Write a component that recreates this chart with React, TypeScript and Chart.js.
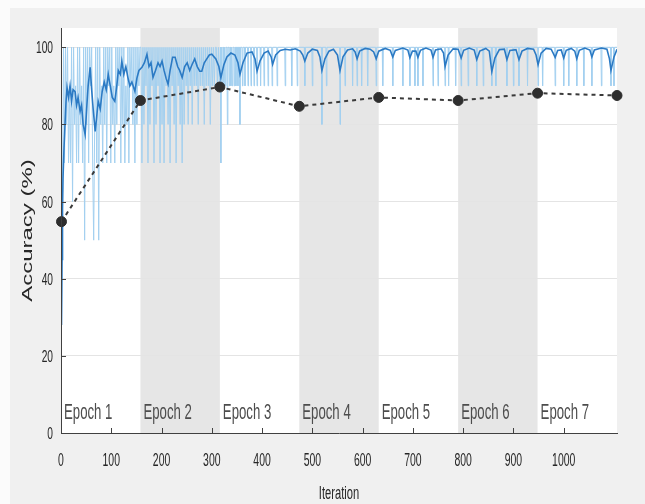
import React, { useEffect, useRef } from "react";
import { Chart, registerables } from "chart.js";

Chart.register(...registerables);

// ---- data ----
const EPOCH_ITERS = [0, 158, 316, 474, 632, 790, 948, 1106];
const EPOCH_LABELS = ["Epoch 1", "Epoch 2", "Epoch 3", "Epoch 4", "Epoch 5", "Epoch 6", "Epoch 7"];
const X_TICKS = [0, 100, 200, 300, 400, 500, 600, 700, 800, 900, 1000];
const Y_TICKS = [0, 20, 40, 60, 80, 100];
const X_TITLE = "Iteration";
const Y_TITLE = "Accuracy (%)";

// validation accuracy (black dashed with markers)
const VAL_ITERS = [1, 158, 316, 474, 632, 790, 948, 1106];
const VAL_ACC = [54.8, 86.2, 89.7, 84.7, 87.0, 86.2, 88.1, 87.5];

// raw mini-batch accuracy, epoch 1 (iterations 1,3,5,...)
const RAW_EPOCH1 = [
  30, 60, 100, 70, 100, 80, 100, 70, 90, 70, 100, 60, 100, 80, 90, 70, 100, 70, 100, 80,
  90, 70, 100, 50, 100, 80, 100, 70, 100, 90, 100, 70, 50, 80, 100, 70, 100, 50, 100, 80,
  90, 70, 100, 80, 100, 70, 100, 90, 100, 70, 100, 80, 90, 70, 100, 80, 100, 90, 100, 70,
  100, 80, 100, 70, 90, 80, 100, 70, 100, 90, 100, 80, 100, 70, 100, 80, 100, 90, 100,
];
// raw mini-batch accuracy, epoch 2 (iterations 159,161,...)
const RAW_EPOCH2 = [
  100, 70, 100, 80, 100, 90, 100, 70, 100, 80, 100, 90, 100, 70, 100, 80, 100, 90, 100, 70,
  100, 80, 100, 70, 100, 90, 100, 80, 100, 70, 100, 90, 100, 80, 100, 70, 100, 90, 100, 80,
  100, 70, 100, 80, 100, 90, 100, 80, 100, 90, 100, 80, 100, 90, 100, 90, 100, 80, 100, 90,
  100, 90, 100, 80, 100, 90, 100, 90, 100, 80, 100, 90, 100, 90, 100, 100, 90, 100, 90,
];
// raw accuracy from epoch 3 on: 100 except at these iterations
const RAW_DIPS: [number, number][] = [
  [318, 70], [321, 90], [324, 90], [327, 90], [331, 80], [335, 90], [338, 90], [341, 90],
  [345, 90], [348, 90], [352, 90], [356, 80], [361, 90], [366, 90], [372, 90], [378, 90],
  [384, 90], [390, 90], [397, 90], [404, 90], [412, 90], [420, 90], [430, 90], [446, 90],
  [459, 90], [470, 90], [485, 90], [500, 90], [519, 80], [528, 90], [555, 80], [565, 90],
  [580, 90], [589, 90], [598, 90], [610, 90], [627, 90], [640, 90], [660, 90], [680, 90],
  [694, 90], [704, 90], [710, 90], [720, 90], [740, 90], [750, 90], [764, 90], [771, 90],
  [785, 90], [796, 90], [810, 90], [827, 90], [840, 90], [857, 90], [865, 90], [887, 90],
  [900, 90], [911, 90], [928, 90], [949, 90], [958, 90], [983, 90], [1000, 90], [1010, 90],
  [1026, 90], [1040, 90], [1056, 90], [1075, 90], [1094, 90], [1100, 90],
];

// smoothed training accuracy (dark blue)
const SMOOTH_POINTS: [number, number][] = [
  [1, 28], [2, 45], [3, 58], [4, 66], [6, 74], [8, 80], [10, 86], [12, 89.5], [15, 87], [18, 90],
  [21, 86], [24, 89], [28, 88.5], [31, 85], [34, 87], [38, 83.4], [41, 85], [44, 80], [48, 77.4],
  [51, 84], [54, 90], [58, 94.8], [61, 89], [64, 84], [68, 78.2], [71, 82], [74, 86], [78, 84],
  [82, 88.6], [86, 91], [90, 89], [94, 93], [98, 90], [102, 87], [107, 86], [111, 90], [114, 94],
  [118, 93], [121, 96.4], [125, 93], [129, 95], [133, 92.2], [137, 90], [141, 91], [147, 88.6],
  [151, 92], [155, 94], [161, 94.8], [166, 96], [171, 98.2], [175, 95], [179, 96], [183, 92.2],
  [188, 94], [193, 96], [197, 95], [201, 96.4], [205, 94], [209, 92], [213, 90.4], [217, 94],
  [222, 97.4], [227, 97.4], [232, 95], [236, 94], [241, 92.2], [246, 95], [251, 96], [256, 94],
  [261, 95.6], [266, 97], [271, 95], [276, 93.8], [280, 93.8], [285, 96], [290, 97], [295, 98],
  [300, 98.2], [308, 97], [314, 95], [318, 92.1], [324, 95.5], [330, 97.5], [338, 98.5],
  [346, 98], [352, 96], [356, 93], [362, 96], [370, 98.5], [380, 98.8], [386, 97], [390, 93.8],
  [396, 96.5], [404, 98.5], [412, 99], [418, 97.5], [421, 95.6], [427, 98], [436, 99.2],
  [446, 99.5], [456, 99.3], [466, 99.6], [476, 99], [481, 98], [485, 96.4], [491, 98.5],
  [500, 99.5], [510, 99.2], [515, 97.5], [519, 94], [525, 97], [533, 99], [542, 99.5],
  [550, 98], [555, 94], [561, 97.5], [570, 99.3], [580, 99.6], [585, 98.8], [589, 97],
  [594, 99], [605, 99.7], [615, 99.5], [622, 98.8], [627, 97], [632, 99], [645, 99.7],
  [655, 99.2], [660, 97.5], [665, 99.2], [680, 99.8], [690, 99.3], [694, 97.3], [699, 99],
  [706, 99], [710, 97.4], [715, 99.2], [726, 99.8], [736, 99.3], [740, 97.4], [745, 99.3],
  [756, 99.6], [761, 98.5], [764, 95], [770, 98], [780, 99.6], [790, 99.5], [796, 97.2],
  [801, 99.2], [812, 99.8], [822, 99.3], [827, 96.8], [833, 99], [845, 99.7], [852, 99],
  [857, 93.7], [863, 97.2], [872, 99.4], [882, 99.5], [887, 96.8], [893, 99.2], [905, 99.4],
  [911, 96.8], [917, 99], [928, 99.7], [940, 99.5], [945, 98], [949, 95.5], [955, 98.5],
  [965, 99.7], [975, 99.5], [979, 98.5], [983, 97.4], [988, 99.2], [995, 99.3], [1000, 97.2],
  [1005, 99.2], [1015, 99.7], [1022, 99], [1026, 97], [1031, 99.2], [1042, 99.8], [1052, 99.3],
  [1056, 97.5], [1061, 99.3], [1075, 99.8], [1086, 99.5], [1091, 97], [1094, 94], [1100, 97.5],
  [1106, 99.5],
];

// ---- build series ----
function buildRaw() {
  const pts: { x: number; y: number }[] = [];
  RAW_EPOCH1.forEach((v, i) => pts.push({ x: 1 + 2 * i, y: v }));
  RAW_EPOCH2.forEach((v, i) => pts.push({ x: 159 + 2 * i, y: v }));
  RAW_DIPS.forEach(([it, v]) => {
    pts.push({ x: it - 1, y: 100 });
    pts.push({ x: it, y: v });
    pts.push({ x: it + 1, y: 100 });
  });
  pts.push({ x: EPOCH_ITERS[EPOCH_ITERS.length - 1], y: 100 });
  return pts;
}

const SQ = 0.6;
const FONT = '"Liberation Sans", Arial, "DejaVu Sans", sans-serif';

function squishText(
  ctx: CanvasRenderingContext2D,
  text: string,
  x: number,
  y: number,
  size: number,
  align: CanvasTextAlign,
  baseline: CanvasTextBaseline,
  color: string,
  sx: number
) {
  ctx.save();
  ctx.translate(x, y);
  ctx.scale(sx, 1);
  ctx.font = `${size}px ${FONT}`;
  ctx.textAlign = align;
  ctx.textBaseline = baseline;
  ctx.fillStyle = color;
  ctx.fillText(text, 0, 0);
  ctx.restore();
}

const decorPlugin = {
  id: "decor",
  beforeDraw(chart: any) {
    const { ctx, chartArea: a, scales } = chart;
    const x = scales.x;
    const W = chart.width;
    const H = chart.height;
    ctx.save();
    ctx.fillStyle = "#fbfbfb";
    ctx.fillRect(0, 0, W, H);
    ctx.fillStyle = "#f0f0f0";
    ctx.fillRect(10, 8, W - 10, H - 8);
    ctx.fillStyle = "#ffffff";
    ctx.fillRect(a.left, a.top, a.right - a.left, a.bottom - a.top);
    ctx.fillStyle = "#e6e6e6";
    for (let i = 0; i < EPOCH_ITERS.length - 1; i++) {
      if (i % 2 === 1) {
        const x0 = x.getPixelForValue(EPOCH_ITERS[i]);
        const x1 = x.getPixelForValue(EPOCH_ITERS[i + 1]);
        ctx.fillRect(x0, a.top, x1 - x0, a.bottom - a.top);
      }
    }
    ctx.restore();
  },
  beforeDatasetsDraw(chart: any) {
    const { ctx, chartArea: a, scales } = chart;
    const x = scales.x;
    EPOCH_LABELS.forEach((lab, i) => {
      const x0 = x.getPixelForValue(EPOCH_ITERS[i]);
      squishText(ctx, lab, x0 + 3, a.bottom - 14, 22, "left", "alphabetic", "#4d4d4d", SQ);
    });
  },
  afterDraw(chart: any) {
    const { ctx, chartArea: a, scales } = chart;
    const x = scales.x;
    const y = scales.y;
    ctx.save();
    ctx.strokeStyle = "#404040";
    ctx.lineWidth = 1;
    ctx.beginPath();
    X_TICKS.forEach((v) => {
      const px = Math.round(x.getPixelForValue(v)) + 0.5;
      ctx.moveTo(px, a.bottom);
      ctx.lineTo(px, a.bottom - 5);
    });
    Y_TICKS.forEach((v) => {
      const py = Math.round(y.getPixelForValue(v)) + 0.5;
      ctx.moveTo(a.left, py);
      ctx.lineTo(a.left + 5, py);
    });
    ctx.stroke();
    ctx.restore();

    X_TICKS.forEach((v) => {
      squishText(ctx, String(v), x.getPixelForValue(v), a.bottom + 33, 19, "center", "alphabetic", "#262626", 0.55);
    });
    Y_TICKS.forEach((v) => {
      squishText(ctx, String(v), a.left - 8, y.getPixelForValue(v) + 6, 17, "right", "alphabetic", "#262626", 0.6);
    });
    squishText(ctx, X_TITLE, (a.left + a.right) / 2, a.bottom + 66, 18, "center", "alphabetic", "#262626", 0.62);

    ctx.save();
    ctx.translate(28, (a.top + a.bottom) / 2);
    ctx.scale(0.62, 1);
    ctx.rotate(-Math.PI / 2);
    ctx.font = `24px ${FONT}`;
    ctx.textAlign = "center";
    ctx.textBaseline = "middle";
    ctx.fillStyle = "#262626";
    ctx.fillText(Y_TITLE, 0, 0);
    ctx.restore();
  },
};

export default function App() {
  const ref = useRef<HTMLCanvasElement>(null);
  useEffect(() => {
    document.body.style.margin = "0";
    const canvas = ref.current!;
    const chart = new Chart(canvas, {
      type: "line",
      data: {
        datasets: [
          {
            label: "Validation",
            data: VAL_ITERS.map((it, i) => ({ x: it, y: VAL_ACC[i] })),
            borderColor: "#3a3a3a",
            backgroundColor: "#2e2e2e",
            borderWidth: 2,
            borderDash: [4, 4],
            pointRadius: 5,
            pointBackgroundColor: "#2e2e2e",
            pointBorderColor: "#2e2e2e",
            pointBorderWidth: 1,
            clip: false,
            order: 1,
          } as any,
          {
            label: "Smoothed",
            data: SMOOTH_POINTS.map(([it, v]) => ({ x: it, y: v })),
            borderColor: "#2b7ac4",
            borderWidth: 1.6,
            pointRadius: 0,
            order: 2,
          },
          {
            label: "Raw",
            data: buildRaw(),
            borderColor: "#a3d0f0",
            borderWidth: 1,
            pointRadius: 0,
            order: 3,
          },
        ],
      },
      options: {
        responsive: false,
        animation: false,
        devicePixelRatio: 1,
        layout: { padding: { left: 61, top: 28, right: 28, bottom: 71 } },
        plugins: { legend: { display: false }, tooltip: { enabled: false } },
        elements: { line: { tension: 0 } },
        scales: {
          x: {
            type: "linear",
            min: 0,
            max: EPOCH_ITERS[EPOCH_ITERS.length - 1],
            afterBuildTicks: (s: any) => {
              s.ticks = X_TICKS.map((v) => ({ value: v }));
            },
            afterFit: (s: any) => {
              s.height = 0;
            },
            ticks: { display: false },
            grid: { display: false, drawTicks: false },
            border: { display: true, color: "#404040", width: 1, z: 1 },
          },
          y: {
            type: "linear",
            min: 0,
            max: 105,
            afterBuildTicks: (s: any) => {
              s.ticks = Y_TICKS.map((v) => ({ value: v }));
            },
            afterFit: (s: any) => {
              s.width = 0;
            },
            ticks: { display: false },
            grid: { color: "#e4e4e4", drawTicks: false, lineWidth: 1 },
            border: { display: true, color: "#404040", width: 1, z: 1 },
          },
        },
      },
      plugins: [decorPlugin],
    });
    return () => chart.destroy();
  }, []);
  return (
    <div style={{ width: 645, height: 504 }}>
      <canvas ref={ref} width={645} height={504} style={{ display: "block" }} />
    </div>
  );
}
